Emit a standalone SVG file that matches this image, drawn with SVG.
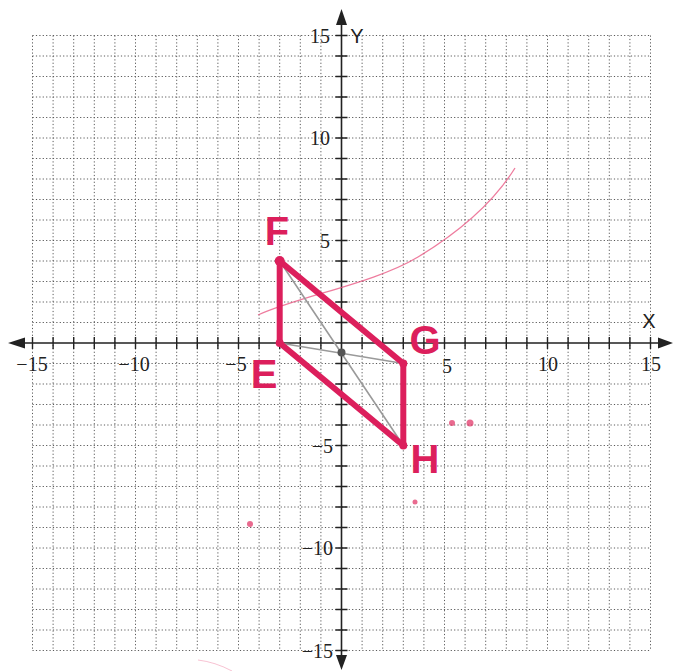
<svg xmlns="http://www.w3.org/2000/svg" width="675" height="671" viewBox="0 0 675 671">
<style>
.grid{fill:none;stroke:#5a5a5a;stroke-width:1;stroke-dasharray:1.2 2.2}
.axis{fill:none;stroke:#222;stroke-width:1.6}
.tick{fill:none;stroke:#222;stroke-width:1.4}
.num{font-family:"Liberation Serif",serif;font-size:20px;fill:#222}
.axl{font-family:"Liberation Sans",sans-serif;font-size:20px;fill:#222}
.side{fill:none;stroke:#dc1f5c;stroke-width:6;stroke-linejoin:round;stroke-linecap:round}
.diag{fill:none;stroke:#9a9a9a;stroke-width:1.6}
.lbl{font-family:"Liberation Sans",sans-serif;font-weight:bold;font-size:40px;fill:#dc1f5c;text-anchor:middle}
.stray{fill:#e2386a;opacity:0.75}
</style>
<rect width="675" height="671" fill="#ffffff"/>
<g id="grid">
<path class="grid" d="M32.5 35.5V650.5M53.1 35.5V650.5M73.7 35.5V650.5M94.3 35.5V650.5M114.9 35.5V650.5M135.5 35.5V650.5M156.1 35.5V650.5M176.7 35.5V650.5M197.3 35.5V650.5M217.9 35.5V650.5M238.5 35.5V650.5M259.1 35.5V650.5M279.7 35.5V650.5M300.3 35.5V650.5M320.9 35.5V650.5M362.1 35.5V650.5M382.7 35.5V650.5M403.3 35.5V650.5M423.9 35.5V650.5M444.5 35.5V650.5M465.1 35.5V650.5M485.7 35.5V650.5M506.3 35.5V650.5M526.9 35.5V650.5M547.5 35.5V650.5M568.1 35.5V650.5M588.7 35.5V650.5M609.3 35.5V650.5M629.9 35.5V650.5M650.5 35.5V650.5"/>
<path class="grid" d="M32.5 35.5H650.5M32.5 56H650.5M32.5 76.5H650.5M32.5 97H650.5M32.5 117.5H650.5M32.5 138H650.5M32.5 158.5H650.5M32.5 179H650.5M32.5 199.5H650.5M32.5 220H650.5M32.5 240.5H650.5M32.5 261H650.5M32.5 281.5H650.5M32.5 302H650.5M32.5 322.5H650.5M32.5 363.5H650.5M32.5 384H650.5M32.5 404.5H650.5M32.5 425H650.5M32.5 445.5H650.5M32.5 466H650.5M32.5 486.5H650.5M32.5 507H650.5M32.5 527.5H650.5M32.5 548H650.5M32.5 568.5H650.5M32.5 589H650.5M32.5 609.5H650.5M32.5 630H650.5M32.5 650.5H650.5"/>
</g>
<g id="axes">
<path class="axis" d="M20 343H662M341.5 22V660"/>
<path d="M8 343L25 337.5L25 348.5Z M673 343L658 337.5L658 348.5Z M341.5 9L336 25L347 25Z M341.5 670L336 655L347 655Z" fill="#222"/>
<path class="tick" d="M32.5 337V349M53.1 337V349M73.7 337V349M94.3 337V349M114.9 337V349M135.5 337V349M156.1 337V349M176.7 337V349M197.3 337V349M217.9 337V349M238.5 337V349M259.1 337V349M279.7 337V349M300.3 337V349M320.9 337V349M362.1 337V349M382.7 337V349M403.3 337V349M423.9 337V349M444.5 337V349M465.1 337V349M485.7 337V349M506.3 337V349M526.9 337V349M547.5 337V349M568.1 337V349M588.7 337V349M609.3 337V349M629.9 337V349M650.5 337V349"/>
<path class="tick" d="M335.5 35.5H347.5M335.5 56H347.5M335.5 76.5H347.5M335.5 97H347.5M335.5 117.5H347.5M335.5 138H347.5M335.5 158.5H347.5M335.5 179H347.5M335.5 199.5H347.5M335.5 220H347.5M335.5 240.5H347.5M335.5 261H347.5M335.5 281.5H347.5M335.5 302H347.5M335.5 322.5H347.5M335.5 363.5H347.5M335.5 384H347.5M335.5 404.5H347.5M335.5 425H347.5M335.5 445.5H347.5M335.5 466H347.5M335.5 486.5H347.5M335.5 507H347.5M335.5 527.5H347.5M335.5 548H347.5M335.5 568.5H347.5M335.5 589H347.5M335.5 609.5H347.5M335.5 630H347.5M335.5 650.5H347.5"/>
<g class="num" text-anchor="middle">
<text x="32" y="371">−15</text>
<text x="134" y="371">−10</text>
<text x="236" y="371">−5</text>
<text x="447" y="373">5</text>
<text x="548" y="371">10</text>
<text x="651" y="371">15</text>
</g>
<g class="num" text-anchor="end">
<text x="330" y="43">15</text>
<text x="330" y="145">10</text>
<text x="330" y="247.5">5</text>
<text x="333" y="452.5">−5</text>
<text x="333" y="555">−10</text>
<text x="333" y="657.5">−15</text>
</g>
<text class="axl" x="357" y="43" text-anchor="middle">Y</text>
<text class="axl" x="649" y="328" text-anchor="middle">X</text>
</g>
<g id="marks">
<path d="M258 315C300 296 375 283 418 257S495 200 515 168" fill="none" stroke="#e8507e" stroke-width="1.3" opacity="0.75"/>
<path d="M198 660Q215 662 232 671" fill="none" stroke="#e8507e" stroke-width="1" opacity="0.35"/>
<circle class="stray" cx="250" cy="524" r="3"/>
<circle class="stray" cx="452" cy="423" r="3"/>
<circle class="stray" cx="470" cy="423" r="3.5"/>
<circle class="stray" cx="415" cy="502" r="2.5" opacity="0.5"/>
</g>
<g id="connectors">
<path class="diag" d="M279.7 261L403.3 445.5M279.7 343L403.3 363.5"/>
<path id="side-EF" class="side" d="M279.7 343L279.7 261"/>
<path id="side-FG" class="side" d="M279.7 261L403.3 363.5"/>
<path id="side-GH" class="side" d="M403.3 363.5L403.3 445.5"/>
<path id="side-HE" class="side" d="M403.3 445.5L279.7 343"/>
</g>
<g id="center"><circle cx="341.5" cy="352.5" r="4" fill="#555"/></g>
<g id="node-F"><circle cx="279.7" cy="261" r="5" fill="#dc1f5c"/><text class="lbl" x="277" y="245" font-size="44">F</text></g>
<g id="node-E"><circle cx="279.7" cy="343" r="4" fill="#dc1f5c"/><text class="lbl" x="264" y="388">E</text></g>
<g id="node-G"><circle cx="403.3" cy="363.5" r="4" fill="#dc1f5c"/><text class="lbl" x="425" y="354" font-size="37">G</text></g>
<g id="node-H"><circle cx="403.3" cy="445.5" r="4" fill="#dc1f5c"/><text class="lbl" x="425" y="473">H</text></g>
</svg>
